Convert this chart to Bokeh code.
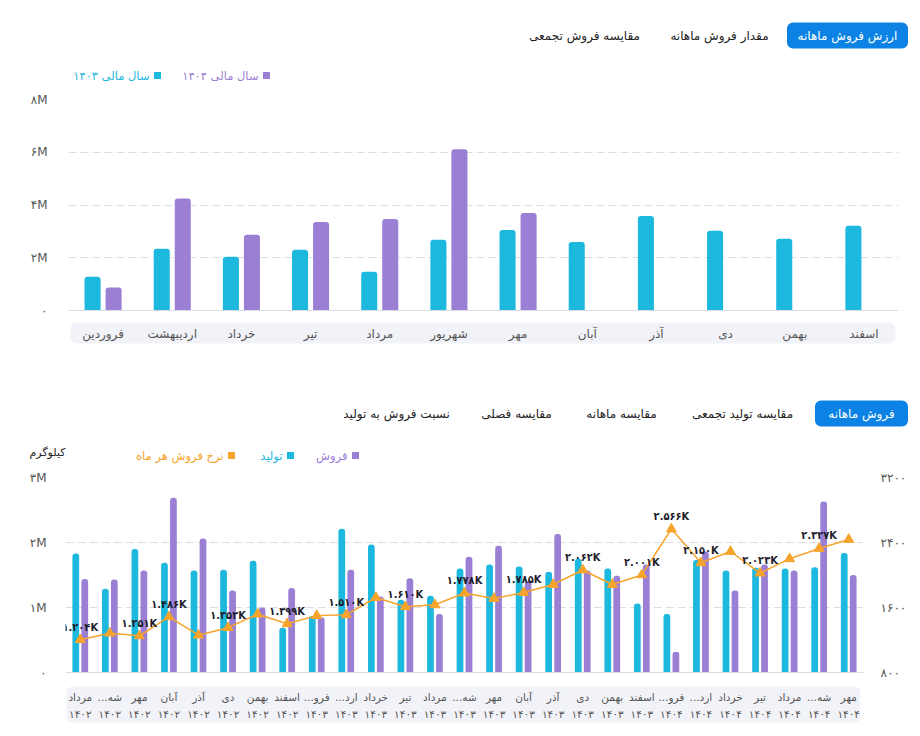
import numpy as np
from bokeh.plotting import figure
from bokeh.layouts import column
from bokeh.models import Range1d, LinearAxis, FixedTicker, Span
from bokeh.core.properties import value
from bokeh.embed import file_html
from bokeh.resources import INLINE

FONT = value("DejaVu Sans")
LABEL_FONT = value("DejaVu Sans Condensed")
CYAN = "#1cb8de"
PURPLE = "#9b7fd4"
ORANGE = "#f6a42c"
BLUE = "#0c83e4"
GRID = "#dcdce5"
BAND = "#f2f3f8"
TXT = "#222222"
AXIS_TXT = "#555555"

FA_DIGITS = str.maketrans("0123456789", "۰۱۲۳۴۵۶۷۸۹")


def fa(s):
    return str(s).translate(FA_DIGITS)


# ---- monthly sales value by fiscal year (million) ----
months = ["فروردین", "اردیبهشت", "خرداد", "تیر", "مرداد", "شهریور",
          "مهر", "آبان", "آذر", "دی", "بهمن", "اسفند"]
value_1403 = [1.28, 2.34, 2.04, 2.30, 1.47, 2.68, 3.05, 2.60, 3.58, 3.02, 2.72, 3.21]
value_1404 = [0.87, 4.25, 2.87, 3.36, 3.47, 6.11, 3.70]
value_ticks = [0, 2, 4, 6, 8]

# ---- monthly production / sales (million kg) and monthly sale rate ----
period_months = ["مرداد", "...شه", "مهر", "آبان", "آذر", "دی", "بهمن", "اسفند",
                 "...فرو", "...ارد", "خرداد", "تیر", "مرداد", "...شه", "مهر", "آبان",
                 "آذر", "دی", "بهمن", "اسفند", "...فرو", "...ارد", "خرداد", "تیر",
                 "مرداد", "...شه", "مهر"]
period_years = ["1402"] * 8 + ["1403"] * 12 + ["1404"] * 7
production = [1.83, 1.29, 1.90, 1.69, 1.57, 1.58, 1.72, 0.69, 0.87, 2.21, 1.97, 1.12,
              1.18, 1.60, 1.66, 1.63, 1.55, 1.75, 1.60, 1.06, 0.90, 1.73, 1.57, 1.61,
              1.60, 1.62, 1.84]
sales = [1.44, 1.43, 1.57, 2.69, 2.06, 1.26, 1.00, 1.30, 0.85, 1.58, 1.17, 1.45,
         0.90, 1.78, 1.95, 1.40, 2.13, 1.57, 1.49, 1.66, 0.32, 1.86, 1.26, 1.66,
         1.57, 2.63, 1.50]
sale_rate = [1204, 1284, 1251, 1486, 1259, 1352, 1518, 1399, 1500, 1510, 1723, 1610,
             1633, 1778, 1711, 1785, 1883, 2062, 1883, 2001, 2566, 2150, 2289, 2023,
             2199, 2327, 2437]
rate_label_idx = [0, 2, 3, 5, 7, 9, 11, 13, 15, 17, 19, 20, 21, 23, 25]
qty_ticks = [0, 1, 2, 3]
rate_ticks = [800, 1600, 2400, 3200]

W = 920


def canvas(h):
    """Plain pixel-space strip used for tab bars and legends."""
    p = figure(width=W, height=h, x_range=Range1d(0, W), y_range=Range1d(h, 0),
               x_axis_type=None, y_axis_type=None, output_backend="svg",
               toolbar_location=None, min_border=0, frame_align=False)
    p.outline_line_color = None
    p.grid.visible = False
    return p


def txt(p, x, y, s, color=TXT, size="12px", align="center", style="normal"):
    p.text(x=[x], y=[y], text=[s], text_color=color, text_font=FONT,
           text_font_size=size, text_align=align, text_baseline="middle",
           text_font_style=style)


def tab(p, cx, cy, label, active=False, w=0):
    if active:
        p.quad(left=cx - w / 2, right=cx + w / 2, top=cy - 13, bottom=cy + 13,
               fill_color=BLUE, line_color=None, border_radius=6)
        txt(p, cx, cy, label, color="white", size="12px")
    else:
        txt(p, cx, cy, label, size="12px")


def legend_item(p, sx, y, label, color):
    p.scatter(x=[sx], y=[y], marker="square", size=7, fill_color=color, line_color=None)
    txt(p, sx - 8, y, label, color=color, size="11.5px", align="right")


# ---------------- header of the value chart ----------------
h1 = canvas(88)
tab(h1, 847, 35, "ارزش فروش ماهانه", active=True, w=121)
tab(h1, 719, 35, "مقدار فروش ماهانه")
tab(h1, 584, 35, "مقایسه فروش تجمعی")
legend_item(h1, 266, 75, "سال مالی " + fa(1404), PURPLE)
legend_item(h1, 157, 75, "سال مالی " + fa(1403), CYAN)

# ---------------- value chart ----------------
T_TOP, T_ZERO, T_BOT, T_START = 99, 310, 345, 88
t_ppu = (T_ZERO - T_TOP) / value_ticks[-1]


def ty(page_y):
    return (T_ZERO - page_y) / t_ppu


p1 = figure(width=W, height=267, x_range=Range1d(-0.5, len(months) - 0.5),
            y_range=Range1d(ty(T_BOT), value_ticks[-1]), x_axis_location=None,
            output_backend="svg", toolbar_location=None, frame_align=False,
            min_border_left=68, min_border_right=22,
            min_border_top=T_TOP - T_START, min_border_bottom=T_START + 267 - T_BOT)
p1.outline_line_color = None
p1.xgrid.visible = False
p1.ygrid.ticker = FixedTicker(ticks=value_ticks[1:])
p1.ygrid.grid_line_color = GRID
p1.ygrid.grid_line_dash = "8 4"
ya = p1.yaxis[0]
ya.ticker = FixedTicker(ticks=value_ticks)
ya.major_label_overrides = {t: (fa(t) + "M" if t else fa(0)) for t in value_ticks}
ya.axis_line_color = None
ya.major_tick_line_color = None
ya.minor_tick_line_color = None
ya.major_label_standoff = 15
ya.major_label_text_font = "DejaVu Sans"
ya.major_label_text_font_size = "12px"
ya.major_label_text_color = AXIS_TXT
p1.add_layout(Span(location=0, dimension="width", line_color=GRID, line_width=1))

x1 = np.arange(len(months))
p1.quad(left=-0.471, right=len(months) - 0.544, top=ty(322), bottom=ty(343),
        fill_color=BAND, line_color=None, border_radius=6)
p1.vbar(x=x1 - 0.152, top=value_1403, bottom=0, width=0.232, fill_color=CYAN,
        line_color=None, border_radius=(3, 3, 0, 0))
p1.vbar(x=x1[:len(value_1404)] + 0.152, top=value_1404, bottom=0, width=0.232,
        fill_color=PURPLE, line_color=None, border_radius=(3, 3, 0, 0))
p1.text(x=x1, y=ty(333), text=months, text_font=FONT, text_font_size="12px",
        text_color=AXIS_TXT, text_align="center", text_baseline="middle")

# ---------------- header of the quantity chart ----------------
h2 = canvas(115)
tab(h2, 861, 58, "فروش ماهانه", active=True, w=93)
tab(h2, 742, 58, "مقایسه تولید تجمعی")
tab(h2, 621, 58, "مقایسه ماهانه")
tab(h2, 516, 58, "مقایسه فصلی")
tab(h2, 396, 58, "نسبت فروش به تولید")
legend_item(h2, 355, 100, "فروش", PURPLE)
legend_item(h2, 290, 100, "تولید", CYAN)
legend_item(h2, 231, 100, "نرخ فروش هر ماه", ORANGE)
txt(h2, 65, 97, "کیلوگرم", color=TXT, size="11px", align="right")

# ---------------- quantity chart ----------------
B_TOP, B_ZERO, B_BOT, B_START, B_H = 477, 672, 725, 470, 266
b_ppu = (B_ZERO - B_TOP) / qty_ticks[-1]
rate_per_px = (rate_ticks[-1] - rate_ticks[0]) / (B_ZERO - B_TOP)


def by(page_y):
    return (B_ZERO - page_y) / b_ppu


n = len(period_months)
p2 = figure(width=W, height=B_H, x_range=Range1d(-0.5, n - 0.5),
            y_range=Range1d(by(B_BOT), qty_ticks[-1]), x_axis_location=None,
            output_backend="svg", toolbar_location=None, frame_align=False,
            min_border_left=65, min_border_right=57,
            min_border_top=B_TOP - B_START, min_border_bottom=B_START + B_H - B_BOT)
p2.extra_y_ranges = {"rate": Range1d(rate_ticks[0] - (B_BOT - B_ZERO) * rate_per_px,
                                     rate_ticks[-1])}
p2.outline_line_color = None
p2.xgrid.visible = False
p2.ygrid.ticker = FixedTicker(ticks=qty_ticks[1:])
p2.ygrid.grid_line_color = GRID
p2.ygrid.grid_line_dash = "8 4"


def style_axis(ax):
    ax.axis_line_color = None
    ax.major_tick_line_color = None
    ax.minor_tick_line_color = None
    ax.major_label_text_font = "DejaVu Sans"
    ax.major_label_text_font_size = "12px"
    ax.major_label_text_color = AXIS_TXT


yl = p2.yaxis[0]
yl.ticker = FixedTicker(ticks=qty_ticks)
yl.major_label_overrides = {t: (fa(t) + "M" if t else fa(0)) for t in qty_ticks}
yl.major_label_standoff = 13
style_axis(yl)
yr = LinearAxis(y_range_name="rate", ticker=FixedTicker(ticks=rate_ticks))
yr.major_label_overrides = {t: fa(t) for t in rate_ticks}
yr.major_label_standoff = 11
style_axis(yr)
p2.add_layout(yr, "right")
p2.add_layout(Span(location=0, dimension="width", line_color=GRID, line_width=1))

x2 = np.arange(n)
p2.quad(left=-0.466, right=n - 0.61, top=by(686), bottom=by(722),
        fill_color=BAND, line_color=None, border_radius=6)
p2.vbar(x=x2 - 0.152, top=production, bottom=0, width=0.228, fill_color=CYAN,
        line_color=None, border_radius=(3, 3, 0, 0))
p2.vbar(x=x2 + 0.152, top=sales, bottom=0, width=0.228, fill_color=PURPLE,
        line_color=None, border_radius=(3, 3, 0, 0))
p2.line(x=x2, y=sale_rate, y_range_name="rate", line_color=ORANGE, line_width=1.5)
p2.scatter(x=x2, y=sale_rate, y_range_name="rate", marker="triangle", size=10,
           fill_color=ORANGE, line_color=ORANGE)
p2.text(x=[x2[i] for i in rate_label_idx],
        y=[sale_rate[i] for i in rate_label_idx],
        text=[fa(f"{sale_rate[i] / 1000:.3f}K") for i in rate_label_idx],
        y_range_name="rate", text_font=LABEL_FONT, text_font_size="11px",
        text_font_style="bold", text_color="#1d1d2b", text_align="center",
        text_baseline="bottom", y_offset=-6)
p2.text(x=x2, y=by(696), text=period_months, text_font=FONT, text_font_size="10.5px",
        text_color=AXIS_TXT, text_align="center", text_baseline="middle")
p2.text(x=x2, y=by(713), text=[fa(y) for y in period_years], text_font=FONT,
        text_font_size="10.5px", text_color=AXIS_TXT, text_align="center",
        text_baseline="middle")

page = column(h1, p1, h2, p2, spacing=0)
open("out.html", "w").write(file_html(page, INLINE))
